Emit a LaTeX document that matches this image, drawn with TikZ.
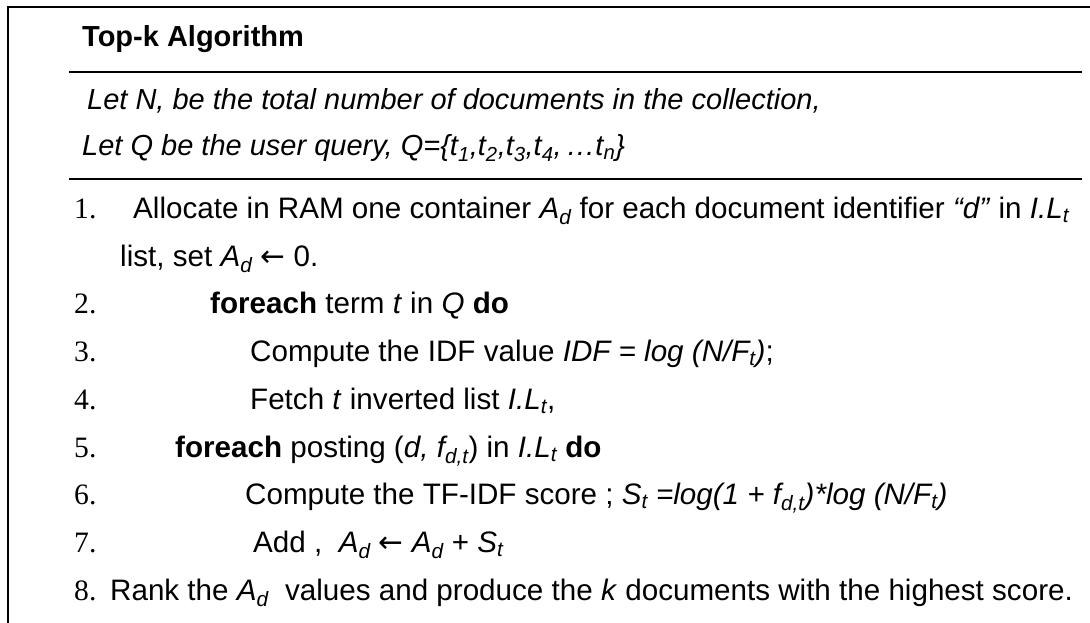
\documentclass[tikz,border=0pt]{standalone}
\usepackage{fontspec}
\setmainfont{Liberation Sans}
\newfontfamily\numfont{Liberation Serif}
\newfontfamily\arrowfont{DejaVu Sans}
\usepackage{tikz}
\usetikzlibrary{positioning}
\newcommand{\Ad}{\textit{A\textsubscript{d}}}
\newcommand{\getsarrow}{{\arrowfont ←}}
\tikzstyle{line} = [anchor=base west, inner sep=0pt, font=\fontsize{29.6}{36}\selectfont]
\tikzstyle{head} = [anchor=base west, inner sep=0pt, font=\fontsize{29}{35}\selectfont\itshape]
\tikzstyle{num} = [line, font=\fontsize{29.6}{36}\selectfont\numfont]
\tikzstyle{rule} = [line width=1.8pt]

\begin{document}
\begin{tikzpicture}[x=1pt, y=-1pt]
    \useasboundingbox (0,0) rectangle (1090,623);
    % Frame
    \draw [rule] (8,623) -- (8,7) -- (1090,7);

    % Title
    \node (title) [head, font=\fontsize{29}{35}\selectfont\bfseries] at (82,47) {Top-k Algorithm};
    \draw [rule] (69,72) -- (1082,72);

    % Input
    \node (letn) [head] at (87,110) {Let N, be the total number of documents in the collection,};
    \node (letq) [head] at (82,156) {Let Q be the user query, Q=\{t\textsubscript{1},t\textsubscript{2},t\textsubscript{3},t\textsubscript{4},\,…t\textsubscript{n}\}};
    \draw [rule] (69,179) -- (1082,179);

    % Steps
    \node (n1) [num] at (74,218) {1.};
    \node (s1) [line] at (133,218) {Allocate in RAM one container \Ad{} for each document identifier \textit{“d”} in \textit{I.L\textsubscript{t}}};
    \node (s1b) [line] at (120,266) {list, set \Ad{} \getsarrow{} 0.};
    \node (n2) [num] at (74,313) {2.};
    \node (s2) [line] at (210,313) {\textbf{foreach} term \textit{t} in \textit{Q} \textbf{do}};
    \node (n3) [num] at (74,361) {3.};
    \node (s3) [line] at (250,361) {Compute the IDF value \textit{IDF = log (N/F\textsubscript{t})};};
    \node (n4) [num] at (74,409) {4.};
    \node (s4) [line] at (250,409) {Fetch \textit{t} inverted list \textit{I.L\textsubscript{t}},};
    \node (n5) [num] at (74,457) {5.};
    \node (s5) [line] at (175,457) {\textbf{foreach} posting (\textit{d, f\textsubscript{d,t}}) in \textit{I.L\textsubscript{t}} \textbf{do}};
    \node (n6) [num] at (74,504) {6.};
    \node (s6) [line] at (245,504) {Compute the TF-IDF score ; \textit{S\textsubscript{t} =log(1 + f\textsubscript{d,t})*log (N/F\textsubscript{t})}};
    \node (n7) [num] at (74,552) {7.};
    \node (s7) [line] at (253,552) {Add ,\ \ \Ad{} \getsarrow{} \Ad{} + \textit{S\textsubscript{t}}};
    \node (n8) [num] at (74,600) {8.};
    \node (s8) [line] at (110,600) {Rank the \Ad\ \ values and produce the \textit{k} documents with the highest score.};
\end{tikzpicture}
\end{document}
